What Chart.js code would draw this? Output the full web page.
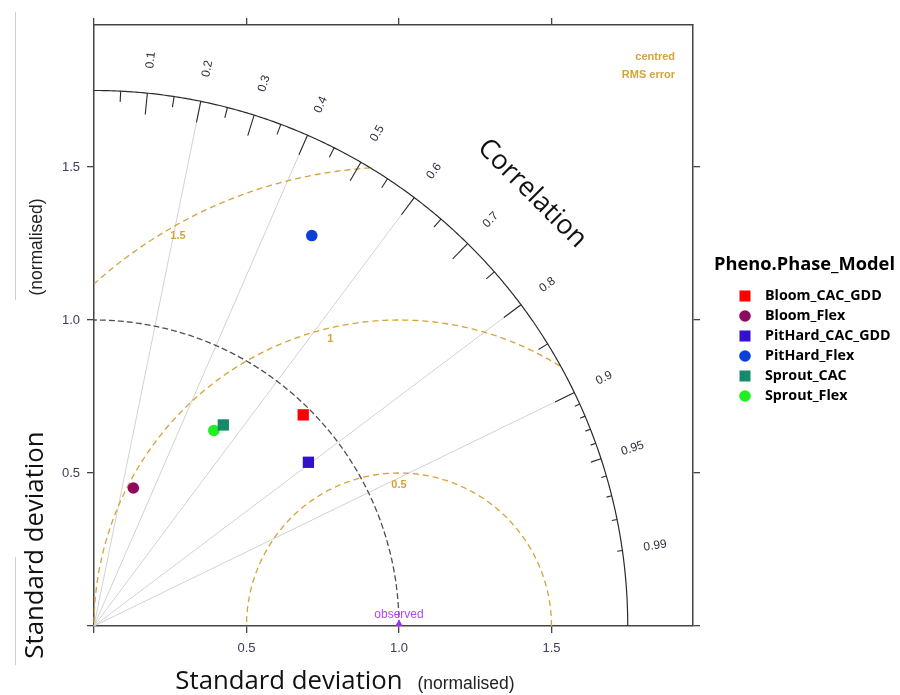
<!DOCTYPE html>
<html>
<head>
<meta charset="utf-8">
<script src="https://cdn.jsdelivr.net/npm/chart.js@4.4.1/dist/chart.umd.min.js"></script>
<style>
  html, body { margin: 0; padding: 0; background: #ffffff; }
  #wrap { width: 900px; height: 695px; position: relative; }
</style>
</head>
<body>
<div id="wrap"><canvas id="c" width="900" height="695"></canvas></div>
<script>
// ---------------- data ----------------
const axisMax = 1.964;
const axisTicks = [0, 0.5, 1.0, 1.5];
const sdMax = 1.75;
const observedSd = 1.0;
const corrLabels = [0.1, 0.2, 0.3, 0.4, 0.5, 0.6, 0.7, 0.8, 0.9, 0.95, 0.99];
const corrBigTicks = [0.1, 0.2, 0.3, 0.4, 0.5, 0.6, 0.7, 0.8, 0.9];
const corrMedTicks = [0.05, 0.15, 0.25, 0.35, 0.45, 0.55, 0.65, 0.75, 0.85, 0.95];
const corrSmallTicks = [0.91, 0.92, 0.93, 0.94, 0.96, 0.97, 0.98, 0.99];
const corrRays = [0.2, 0.4, 0.6, 0.8, 0.9];
const rmsLevels = [0.5, 1.0, 1.5];
const rmsLabelAngles = [90, 103.5, 119.6];
const rmsLabelFactor = [0.92, 0.965, 0.978];

const models = ['Bloom_CAC_GDD', 'Bloom_Flex', 'PitHard_CAC_GDD', 'PitHard_Flex', 'Sprout_CAC', 'Sprout_Flex'];
const modelX = [0.686, 0.129, 0.703, 0.714, 0.424, 0.393];
const modelY = [0.690, 0.451, 0.535, 1.276, 0.657, 0.639];
const modelColors = ['#FF0000', '#8E0B5E', '#3311CC', '#0B3FD9', '#15896A', '#22EE22'];
const modelShapes = ['rect', 'circle', 'rect', 'circle', 'rect', 'circle'];

// ---------------- styles ----------------
const GOLD = '#D6A23A';
const TICKCOL = '#3c3c58';
const NARROW = '"Liberation Sans Narrow", "Liberation Sans", Arial, sans-serif';
const SANS = '"Liberation Sans", Arial, sans-serif';
const TITLEF = '"Open Sans", "Noto Sans", sans-serif';

function fitFont(ctx, text, width, weight, family, maxSize) {
  let size = maxSize;
  for (; size > 6; size -= 0.25) {
    ctx.font = weight + ' ' + size + 'px ' + family;
    if (ctx.measureText(text).width <= width) break;
  }
  return weight + ' ' + size + 'px ' + family;
}

const datasets = models.map((m, i) => ({
  label: m,
  data: [{ x: modelX[i], y: modelY[i] }],
  pointStyle: modelShapes[i],
  pointRadius: modelShapes[i] === 'rect' ? 8 : 5.8,
  backgroundColor: modelColors[i],
  borderColor: modelColors[i],
  borderWidth: 0,
  showLine: false
}));
datasets.push({
  label: 'observed',
  data: [{ x: observedSd, y: 0 }],
  pointStyle: 'triangle',
  pointRadius: 6.5,
  backgroundColor: '#A030F0',
  borderColor: '#A030F0',
  borderWidth: 0
});

function P(chart, x, y) {
  return [chart.scales.x.getPixelForValue(x), chart.scales.y.getPixelForValue(y)];
}

const taylorPlugin = {
  id: 'taylor',
  beforeDatasetsDraw(chart) {
    const ctx = chart.ctx;
    ctx.save();
    // rays
    ctx.strokeStyle = '#d2d2d2';
    ctx.lineWidth = 1;
    corrRays.forEach(c => {
      const th = Math.acos(c);
      const a = P(chart, 0, 0), b = P(chart, sdMax * Math.cos(th), sdMax * Math.sin(th));
      ctx.beginPath(); ctx.moveTo(a[0], a[1]); ctx.lineTo(b[0], b[1]); ctx.stroke();
    });
    // rms contours
    ctx.strokeStyle = GOLD;
    ctx.lineWidth = 1.3;
    ctx.setLineDash([6, 4]);
    rmsLevels.forEach(r => {
      ctx.beginPath();
      let pen = false;
      const N = 600;
      for (let k = 0; k <= N; k++) {
        const t = Math.PI * k / N;
        const x = observedSd + r * Math.cos(t), y = r * Math.sin(t);
        const inside = x >= -1e-9 && (x * x + y * y) <= sdMax * sdMax + 1e-9;
        if (inside) {
          const p = P(chart, Math.max(0, x), y);
          if (!pen) { ctx.moveTo(p[0], p[1]); pen = true; } else ctx.lineTo(p[0], p[1]);
        } else pen = false;
      }
      ctx.stroke();
    });
    // observed sd arc
    ctx.strokeStyle = '#505050';
    ctx.setLineDash([6, 3]);
    ctx.beginPath();
    for (let k = 0; k <= 300; k++) {
      const t = Math.PI / 2 * k / 300;
      const p = P(chart, observedSd * Math.cos(t), observedSd * Math.sin(t));
      if (k === 0) ctx.moveTo(p[0], p[1]); else ctx.lineTo(p[0], p[1]);
    }
    ctx.stroke();
    ctx.setLineDash([]);
    // correlation arc
    ctx.strokeStyle = '#2a2a2a';
    ctx.lineWidth = 1.2;
    ctx.beginPath();
    for (let k = 0; k <= 400; k++) {
      const t = Math.PI / 2 * k / 400;
      const p = P(chart, sdMax * Math.cos(t), sdMax * Math.sin(t));
      if (k === 0) ctx.moveTo(p[0], p[1]); else ctx.lineTo(p[0], p[1]);
    }
    ctx.stroke();
    // ticks on correlation arc
    const tickSet = (arr, f) => arr.forEach(c => {
      const th = Math.acos(c);
      const a = P(chart, sdMax * Math.cos(th), sdMax * Math.sin(th));
      const b = P(chart, f * sdMax * Math.cos(th), f * sdMax * Math.sin(th));
      ctx.beginPath(); ctx.moveTo(a[0], a[1]); ctx.lineTo(b[0], b[1]); ctx.stroke();
    });
    ctx.lineWidth = 1.1;
    tickSet(corrBigTicks, 0.96);
    tickSet(corrMedTicks, 0.98);
    tickSet(corrSmallTicks, 0.99);
    // correlation labels
    ctx.fillStyle = '#2e2e3e';
    ctx.font = '12px ' + SANS;
    ctx.textAlign = 'center';
    ctx.textBaseline = 'middle';
    corrLabels.forEach(c => {
      const th = Math.acos(c);
      const p = P(chart, 1.062 * sdMax * Math.cos(th), 1.062 * sdMax * Math.sin(th));
      ctx.save(); ctx.translate(p[0], p[1]); ctx.rotate(-th);
      ctx.fillText(String(c), 0, 0); ctx.restore();
    });
    // "Correlation"
    {
      const th = Math.PI / 4;
      const p = P(chart, 1.15 * sdMax * Math.cos(th), 1.15 * sdMax * Math.sin(th));
      ctx.save(); ctx.translate(p[0] + 4, p[1] + 3); ctx.rotate(Math.PI / 4);
      ctx.fillStyle = '#111';
      ctx.font = '27px ' + TITLEF;
      ctx.fillText('Correlation', 0, 0); ctx.restore();
    }
    // rms labels
    ctx.fillStyle = GOLD;
    ctx.font = 'bold 11px ' + SANS;
    rmsLevels.forEach((r, i) => {
      const a = rmsLabelAngles[i] * Math.PI / 180;
      const rr = r * rmsLabelFactor[i];
      const p = P(chart, observedSd + rr * Math.cos(a), rr * Math.sin(a));
      ctx.fillText(String(r), p[0], p[1]);
    });
    // centred RMS error
    ctx.textAlign = 'right';
    ctx.font = 'bold 11px ' + NARROW;
    ctx.fillText('centred', 675, 57);
    ctx.fillText('RMS error', 675, 75);
    // observed label
    ctx.textAlign = 'center';
    ctx.fillStyle = '#B048F2';
    ctx.font = '12px ' + NARROW;
    const po = P(chart, observedSd, 0);
    ctx.fillText('observed', po[0], po[1] - 11);
    ctx.restore();
  },
  afterDraw(chart) {
    const ctx = chart.ctx;
    ctx.save();
    // faint crop line
    ctx.strokeStyle = '#cfcfcf'; ctx.lineWidth = 1;
    ctx.beginPath(); ctx.moveTo(15.5, 12); ctx.lineTo(15.5, 300); ctx.moveTo(15.5, 557); ctx.lineTo(15.5, 665); ctx.stroke();
    // axis titles
    ctx.fillStyle = '#111';
    ctx.textAlign = 'center'; ctx.textBaseline = 'middle';
    const big = fitFont(ctx, 'Standard deviation', 229, '', TITLEF, 30);
    const small = fitFont(ctx, '(normalised)', 98, '', NARROW, 22);
    ctx.font = big; ctx.fillText('Standard deviation', 289, 682);
    ctx.font = small; ctx.fillStyle = '#222'; ctx.fillText('(normalised)', 466, 684);
    ctx.save(); ctx.translate(36, 545); ctx.rotate(-Math.PI / 2);
    ctx.font = big; ctx.fillStyle = '#111'; ctx.fillText('Standard deviation', 0, 0); ctx.restore();
    ctx.save(); ctx.translate(37, 247); ctx.rotate(-Math.PI / 2);
    ctx.font = small; ctx.fillStyle = '#222'; ctx.fillText('(normalised)', 0, 0); ctx.restore();
    // legend
    ctx.textAlign = 'left';
    ctx.fillStyle = '#000';
    ctx.font = fitFont(ctx, 'Pheno.Phase_Model', 181, 'bold', TITLEF, 22);
    ctx.fillText('Pheno.Phase_Model', 714, 265);
    const itemFont = fitFont(ctx, 'Bloom_CAC_GDD', 118, 'bold', TITLEF, 18);
    const rows = [296, 316, 336, 356, 376, 396];
    models.forEach((m, i) => {
      const y = rows[i];
      ctx.fillStyle = modelColors[i];
      if (modelShapes[i] === 'rect') ctx.fillRect(739.5, y - 5.5, 11, 11);
      else { ctx.beginPath(); ctx.arc(745, y, 5.8, 0, Math.PI * 2); ctx.fill(); }
      ctx.fillStyle = '#000';
      ctx.font = itemFont;
      ctx.fillText(m, 765, y);
    });
    ctx.restore();
  }
};

const tickFont = { family: NARROW, size: 13 };
const labelCb = v => (v === 0 ? '' : Number(v).toFixed(1));
const setTicks = s => { s.ticks = axisTicks.map(v => ({ value: v })); };
const gridOpt = { drawOnChartArea: false, tickLength: 7, color: '#444', lineWidth: 1.3 };
const borderOpt = { color: '#444', width: 1.5 };

new Chart(document.getElementById('c'), {
  type: 'scatter',
  data: { datasets },
  options: {
    responsive: false,
    animation: false,
    devicePixelRatio: 1,
    layout: { padding: { left: 0, top: 0, right: 195, bottom: 0 } },
    plugins: { legend: { display: false }, tooltip: { enabled: false } },
    scales: {
      x: {
        type: 'linear', position: 'bottom', min: 0, max: axisMax,
        afterBuildTicks: setTicks,
        ticks: { callback: labelCb, color: TICKCOL, font: tickFont, padding: 8, autoSkip: false, maxRotation: 0 },
        grid: gridOpt, border: borderOpt,
        afterFit: s => { s.height = 69; }
      },
      x2: {
        type: 'linear', position: 'top', min: 0, max: axisMax,
        afterBuildTicks: setTicks,
        ticks: { callback: () => '', autoSkip: false, maxRotation: 0 },
        grid: gridOpt, border: borderOpt,
        afterFit: s => { s.height = 25; }
      },
      y: {
        type: 'linear', position: 'left', min: 0, max: axisMax,
        afterBuildTicks: setTicks,
        ticks: { callback: labelCb, color: TICKCOL, font: tickFont, padding: 7, autoSkip: false },
        grid: gridOpt, border: borderOpt,
        afterFit: s => { s.width = 94; }
      },
      y2: {
        type: 'linear', position: 'right', min: 0, max: axisMax,
        afterBuildTicks: setTicks,
        ticks: { callback: () => '', autoSkip: false },
        grid: gridOpt, border: borderOpt,
        afterFit: s => { s.width = 12; }
      }
    }
  },
  plugins: [taylorPlugin]
});
</script>
</body>
</html>
